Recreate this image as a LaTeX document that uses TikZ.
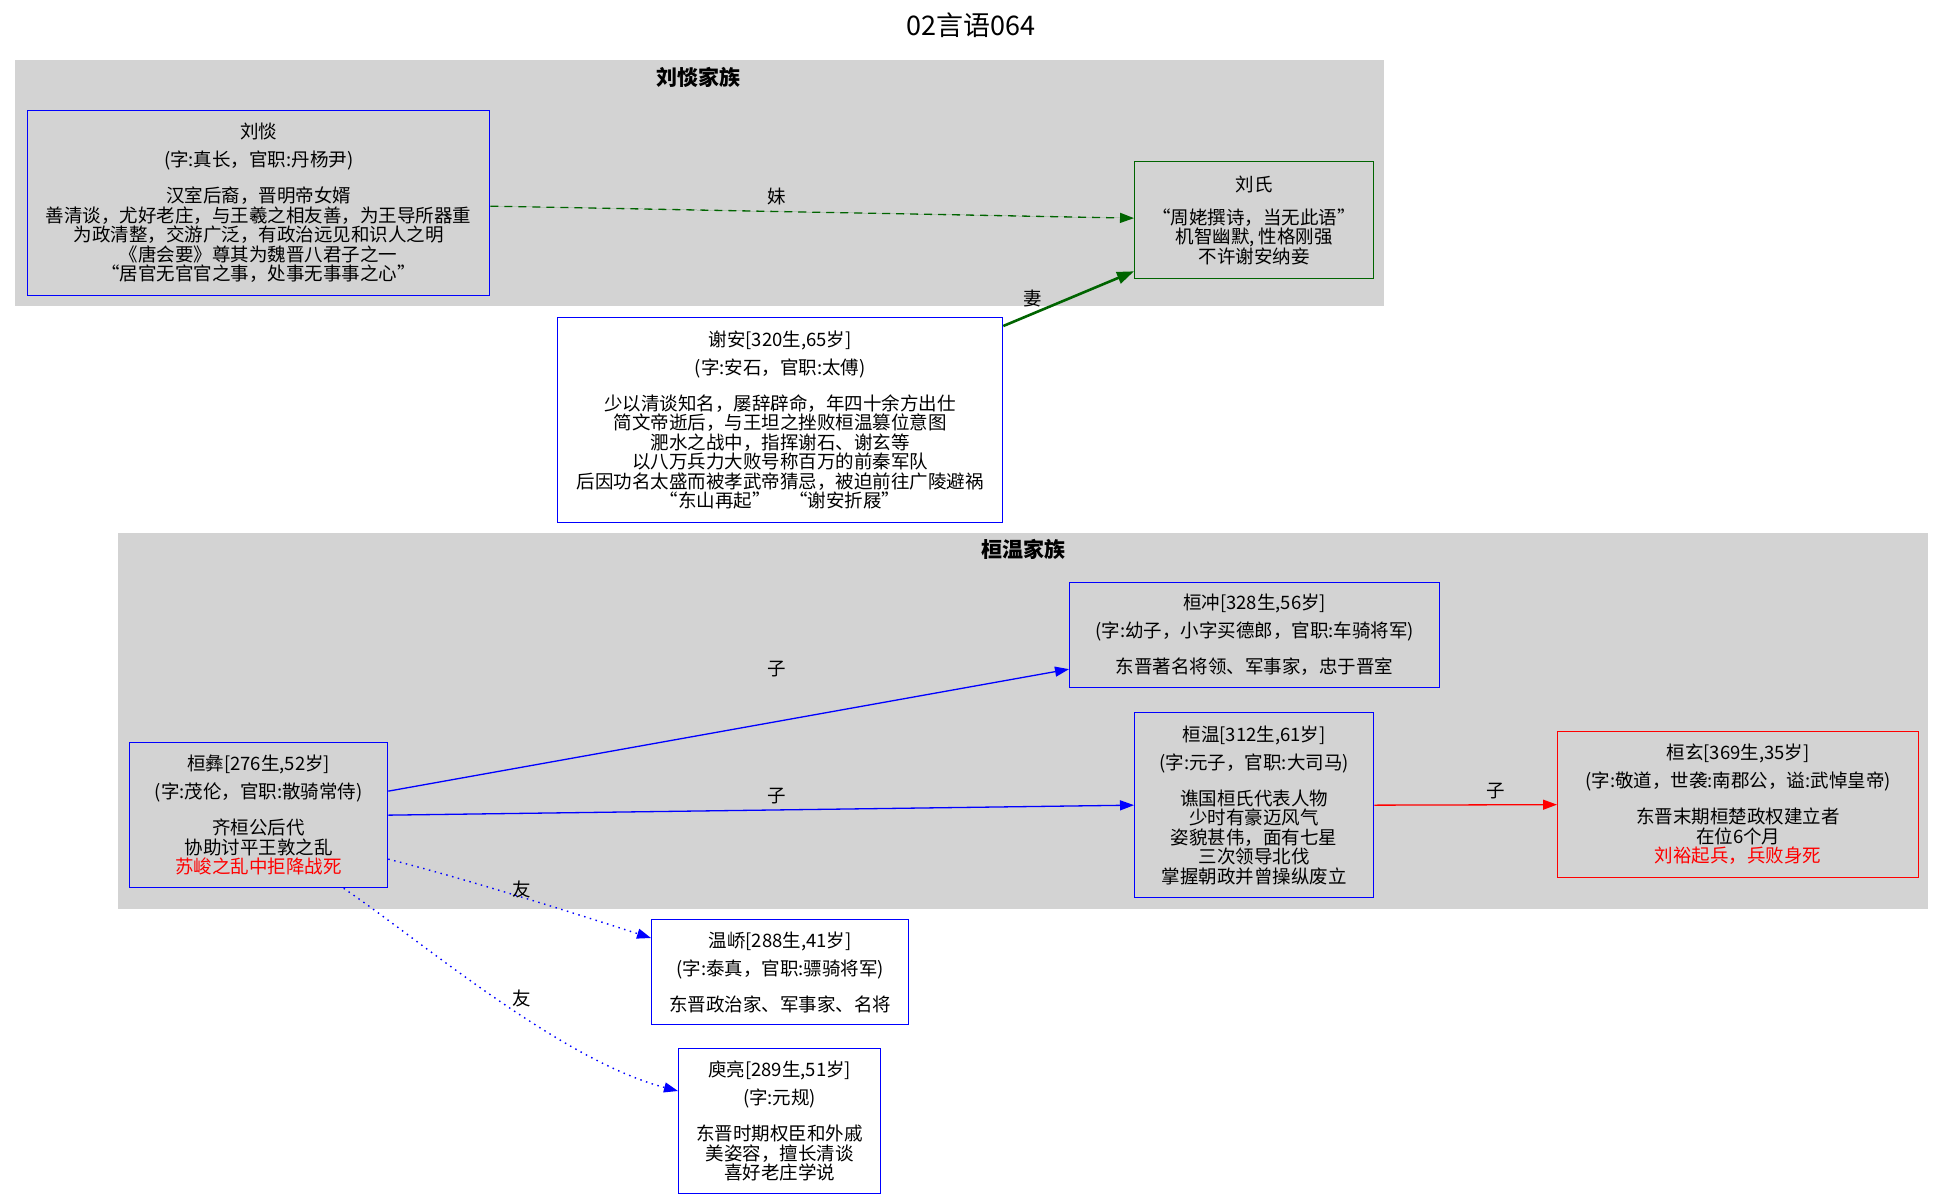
\documentclass[tikz,border=0pt]{standalone}
\usepackage{fontspec}
\setmainfont{Noto Sans CJK SC}
\usetikzlibrary{arrows.meta}
\definecolor{clgray}{RGB}{211,211,211}
\definecolor{dgreen}{RGB}{0,100,0}
\definecolor{gblue}{RGB}{0,0,255}
\definecolor{gred}{RGB}{255,0,0}
\tikzset{
  cluster/.style={fill=clgray, draw=none, inner sep=0pt, anchor=north west},
  clabel/.style={font=\fontsize{21}{24}\selectfont\bfseries, inner sep=0pt},
  person/.style={draw=gblue, line width=1.3pt, align=center, inner sep=0pt,
    font=\fontsize{18.5}{19.5}\selectfont, anchor=north west},
  wperson/.style={person, fill=white},
  elabel/.style={font=\fontsize{18.5}{20}\selectfont, inner sep=0pt},
  tip/.style={-{Triangle[length=14pt,width=10pt]}},
  sonedge/.style={tip, draw=gblue, line width=1.3pt},
  friendedge/.style={tip, draw=gblue, line width=1.4pt, dash pattern=on 1.5pt off 4.5pt},
}
\newcommand{\hdgap}{\\[8.5pt]}
\newcommand{\sbgap}{\\[16.5pt]}
\begin{document}
\begin{tikzpicture}[x=1pt, y=-1pt]
\useasboundingbox[fill=white] (0,0) rectangle (1944,1199);
\node[font=\fontsize{27}{30}\selectfont, inner sep=0pt] (title) at (971,25) {02言语064};

% clusters
\node[cluster, minimum width=1369pt, minimum height=246pt] (c1) at (15,60) {};
\node[clabel] (c1l) at (698,77) {刘惔家族};
\node[cluster, minimum width=1810pt, minimum height=376pt] (c2) at (118,533) {};
\node[clabel] (c2l) at (1023,549) {桓温家族};

% people
\node[person, minimum width=462pt, minimum height=185pt] (liutan) at (27,110)
 {刘惔\hdgap (字:真长，官职:丹杨尹)\sbgap 汉室后裔，晋明帝女婿\\ 善清谈，尤好老庄，与王羲之相友善，为王导所器重\\ 为政清整，交游广泛，有政治远见和识人之明\\ 《唐会要》尊其为魏晋八君子之一\\ “居官无官官之事，处事无事事之心”};
\node[person, draw=dgreen, minimum width=239pt, minimum height=117pt] (liushi) at (1134,161)
 {刘氏\\[13.5pt] “周姥撰诗，当无此语”\\ 机智幽默, 性格刚强\\ 不许谢安纳妾};
\node[wperson, minimum width=445pt, minimum height=205pt] (xiean) at (557,317)
 {谢安[320生,65岁]\hdgap (字:安石，官职:太傅)\sbgap 少以清谈知名，屡辞辟命，年四十余方出仕\\ 简文帝逝后，与王坦之挫败桓温篡位意图\\ 淝水之战中，指挥谢石、谢玄等\\ 以八万兵力大败号称百万的前秦军队\\ 后因功名太盛而被孝武帝猜忌，被迫前往广陵避祸\\ “东山再起”\quad “谢安折屐”};
\node[person, minimum width=258pt, minimum height=145pt] (huanyi) at (129,742)
 {桓彝[276生,52岁]\hdgap (字:茂伦，官职:散骑常侍)\sbgap 齐桓公后代\\ 协助讨平王敦之乱\\ \textcolor{gred}{苏峻之乱中拒降战死}};
\node[person, minimum width=370pt, minimum height=105pt] (huanchong) at (1069,582)
 {桓冲[328生,56岁]\hdgap (字:幼子，小字买德郎，官职:车骑将军)\sbgap 东晋著名将领、军事家，忠于晋室};
\node[person, minimum width=239pt, minimum height=185pt] (huanwen) at (1134,712)
 {桓温[312生,61岁]\hdgap (字:元子，官职:大司马)\sbgap 谯国桓氏代表人物\\ 少时有豪迈风气\\ 姿貌甚伟，面有七星\\ 三次领导北伐\\ 掌握朝政并曾操纵废立};
\node[person, draw=gred, minimum width=361pt, minimum height=146pt] (huanxuan) at (1557,731)
 {桓玄[369生,35岁]\hdgap (字:敬道，世袭:南郡公，谥:武悼皇帝)\sbgap 东晋末期桓楚政权建立者\\ 在位6个月\\ \textcolor{gred}{刘裕起兵，兵败身死}};
\node[wperson, minimum width=257pt, minimum height=105pt] (wenqiao) at (651,919)
 {温峤[288生,41岁]\hdgap (字:泰真，官职:骠骑将军)\sbgap 东晋政治家、军事家、名将};
\node[wperson, minimum width=202pt, minimum height=145pt] (yuliang) at (678,1048)
 {庾亮[289生,51岁]\hdgap (字:元规)\sbgap 东晋时期权臣和外戚\\ 美姿容，擅长清谈\\ 喜好老庄学说};

% edges
\draw[tip, draw=dgreen, fill=dgreen, line width=1.3pt, dash pattern=on 8pt off 6pt]
  ([yshift=-3pt]liutan.east) -- ([yshift=2pt]liushi.west);
\node[elabel] (l1) at (777,196) {妹};
\draw[-{Triangle[length=17pt,width=12pt]}, draw=dgreen, line width=2.6pt]
  ([yshift=-9pt]xiean.north east) -- ([yshift=8pt]liushi.south west);
\node[elabel] (l2) at (1033,298) {妻};
\draw[sonedge] ([yshift=24pt]huanyi.east) -- ([yshift=-34pt]huanchong.west);
\node[elabel] (l3) at (777,669) {子};
\draw[sonedge] (huanyi.east) -- (huanwen.west);
\node[elabel] (l4) at (777,796) {子};
\draw[tip, draw=gred, line width=1.3pt] (huanwen.east) -- (huanxuan.west);
\node[elabel] (l5) at (1496,791) {子};
\draw[friendedge] ([yshift=-44pt]huanyi.east) .. controls (470,880) and (580,915) .. ([yshift=-19pt]wenqiao.north west);
\node[elabel] (l6) at (522,889) {友};
\draw[friendedge] ([xshift=85pt]huanyi.south) .. controls (420,940) and (560,1060) .. ([yshift=-43pt]yuliang.north west);
\node[elabel] (l7) at (522,998) {友};
\end{tikzpicture}
\end{document}
